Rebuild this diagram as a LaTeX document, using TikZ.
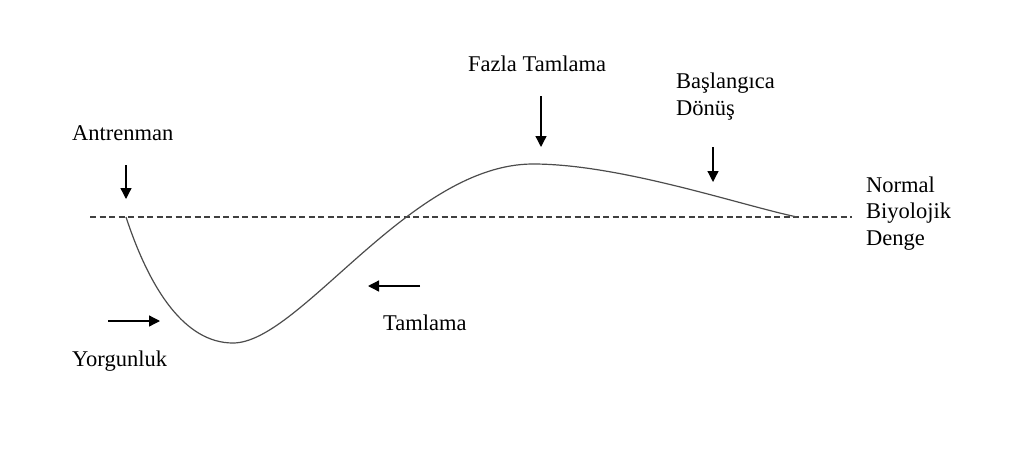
\documentclass[tikz,border=0pt]{standalone}
\usepackage{fontspec}
\setmainfont{Liberation Serif}
\usetikzlibrary{arrows.meta}
\begin{document}
\begin{tikzpicture}[x=1pt,y=-1pt,
  lbl/.style={inner sep=0pt,anchor=base west,align=left,
    font=\fontsize{22.5}{26.5}\selectfont},
  pointer/.style={line width=1.3pt,-{Triangle[length=11pt,width=11pt]}},
  baseline line/.style={draw=black!75,line width=1.5pt,dash pattern=on 6pt off 3.5pt},
  curve/.style={draw=black!70,line width=1.2pt}]
\useasboundingbox (0,0) rectangle (1024,450);
% labels (base anchor of a multi-line node = baseline of its last line)
\node[lbl] (antr) at (72,140) {Antrenman};
\node[lbl] (yorg) at (72,366) {Yorgunluk};
\node[lbl] (fazla) at (468,71) {Fazla Tamlama};
\node[lbl] (basl) at (676,115) {Başlangıca\\Dönüş};
\node[lbl] (norm) at (866,245) {Normal\\Biyolojik\\Denge};
\node[lbl] (taml) at (383,330) {Tamlama};
% baseline
\coordinate (dashL) at (90,217);
\coordinate (dashR) at (852,217);
\draw[baseline line] (dashL) -- (dashR);
% curve
\coordinate (c0) at (126,217);
\coordinate (cmin) at (233,343);
\coordinate (cmax) at (533,164);
\coordinate (cend) at (797,217);
\draw[curve] (c0) .. controls (150,290) and (185,343) .. (cmin)
  .. controls (300,343) and (410,164) .. (cmax)
  .. controls (620,164) and (740,205) .. (cend);
% arrows
\coordinate (a1s) at (126,165); \coordinate (a1e) at (126,199);
\coordinate (a2s) at (108,321); \coordinate (a2e) at (160,321);
\coordinate (a3s) at (420,286); \coordinate (a3e) at (368,286);
\coordinate (a4s) at (541,96);  \coordinate (a4e) at (541,147);
\coordinate (a5s) at (713,147); \coordinate (a5e) at (713,182);
\draw[pointer] (a1s) -- (a1e);
\draw[pointer] (a2s) -- (a2e);
\draw[pointer] (a3s) -- (a3e);
\draw[pointer] (a4s) -- (a4e);
\draw[pointer] (a5s) -- (a5e);
\end{tikzpicture}
\end{document}
